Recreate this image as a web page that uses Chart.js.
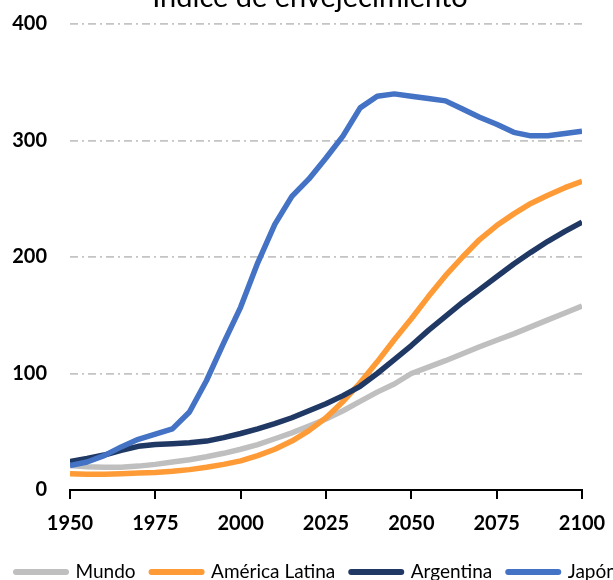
<!DOCTYPE html>
<html>
<head>
<meta charset="utf-8">
<title>Índice de envejecimiento</title>
<script src="https://cdn.jsdelivr.net/npm/chart.js@4/dist/chart.umd.min.js"></script>
<style>
  html, body { margin: 0; padding: 0; background: #fff; overflow: hidden; width: 613px; height: 580px; }
  #wrap { position: absolute; left: 0; top: 0; width: 640px; height: 600px; }
</style>
</head>
<body>
<div id="wrap"><canvas id="chart" width="640" height="600"></canvas></div>
<script>
// Aging index (population 65+ per 100 under 15), five-year steps
const years = [1950, 1955, 1960, 1965, 1970, 1975, 1980, 1985, 1990, 1995,
               2000, 2005, 2010, 2015, 2020, 2025, 2030, 2035, 2040, 2045,
               2050, 2055, 2060, 2065, 2070, 2075, 2080, 2085, 2090, 2095, 2100];

const xTicks = [1950, 1975, 2000, 2025, 2050, 2075, 2100];
const yTicks = [0, 100, 200, 300, 400];

const mundo = [21, 20, 19.5, 19.5, 20.5, 22, 24, 26, 28.5, 31.5,
               35, 39, 44, 49, 55, 61, 68, 76, 84, 91,
               100, 105.5, 111, 117, 123, 128.5, 134, 140, 146, 152, 158];

const americaLatina = [14, 13.5, 13.5, 14, 14.5, 15, 16, 17.5, 19.5, 22,
                       25, 29.5, 35, 42, 51, 62, 76, 92, 110, 129,
                       147, 166, 184, 200, 215, 227, 237, 246, 253, 259.5, 265];

const argentina = [24.5, 27, 30, 34, 37.5, 39, 39.7, 40.5, 42, 45,
                   48.5, 52.5, 57, 62, 68, 74, 81, 89, 100, 112,
                   124, 137, 149, 161, 172, 183, 194, 204, 213.5, 222, 230];

const japon = [21, 24, 29.5, 37, 43.5, 48, 52.5, 67, 94, 126,
               157, 195, 228, 252, 267, 285, 304, 328, 338, 340,
               338, 336, 334, 327, 320, 314, 307, 304, 304, 306, 308];

const seriesNames = ['Mundo', 'América Latina', 'Argentina', 'Japón'];
const seriesValues = [mundo, americaLatina, argentina, japon];
const seriesColors = ['#bfbfbf', '#ff9b36', '#203864', '#4472c4'];

const datasets = seriesNames.map((name, k) => ({
  label: name,
  data: years.map((yr, i) => ({ x: yr, y: seriesValues[k][i] })),
  borderColor: seriesColors[k],
  backgroundColor: seriesColors[k],
  borderWidth: 5.5,
  borderJoinStyle: 'round',
  pointRadius: 0,
  pointHoverRadius: 0,
  tension: 0,
  order: seriesNames.length - k   // later series painted on top
}));

// Chart heading, drawn slightly above the canvas top edge
const headingPlugin = {
  id: 'heading',
  afterDraw(chart) {
    const ctx = chart.ctx;
    ctx.save();
    ctx.font = '29px Lato';
    ctx.fillStyle = '#000';
    ctx.textAlign = 'center';
    ctx.textBaseline = 'alphabetic';
    ctx.fillText('Índice de envejecimiento', 310, 7);
    ctx.restore();
  }
};

const tickFont = { family: 'Lato', size: 20, weight: 'bold' };

new Chart(document.getElementById('chart'), {
  type: 'line',
  data: { datasets },
  plugins: [headingPlugin],
  options: {
    responsive: false,
    animation: false,
    layout: { padding: { top: 24, right: 0, bottom: 8.5, left: 0 } },
    plugins: {
      title: { display: false },
      tooltip: { enabled: false },
      legend: {
        position: 'bottom',
        align: 'start',
        labels: {
          usePointStyle: true,
          pointStyle: 'line',
          pointStyleWidth: 50,
          padding: 16,
          color: '#000',
          font: { family: 'Lato', size: 19 },
          sort: (a, b) => a.datasetIndex - b.datasetIndex,
          generateLabels(chart) {
            const items = Chart.defaults.plugins.legend.labels.generateLabels(chart);
            items.forEach(it => { it.lineWidth = 6; it.lineCap = 'round'; it.pointStyle = 'line'; });
            return items;
          }
        }
      }
    },
    scales: {
      x: {
        type: 'linear',
        min: 1950,
        max: 2100,
        afterBuildTicks: s => { s.ticks = xTicks.map(v => ({ value: v })); },
        afterFit: s => { s.height = 56.5; },
        grid: { display: true, drawOnChartArea: false, drawTicks: true, tickLength: 9, color: '#000', lineWidth: 2 },
        border: { display: true, color: '#000', width: 2 },
        ticks: { padding: 13, color: '#000', font: tickFont, autoSkip: false, maxRotation: 0, callback: v => String(v) }
      },
      y: {
        min: 0,
        max: 400,
        afterBuildTicks: s => { s.ticks = yTicks.map(v => ({ value: v })); },
        afterFit: s => { s.width = 70; s.paddingTop = 0; s.paddingBottom = 0; },
        grid: {
          drawTicks: false,
          lineWidth: 1.8,
          color: c => (c.tick && c.tick.value === 0) ? 'rgba(0,0,0,0)' : '#c4c4c4'
        },
        border: { display: false, dash: [8, 4, 2, 4] },
        ticks: { padding: 23, color: '#000', font: tickFont, callback: v => String(v) }
      },
      // empty right-hand margin so the plot stops short of the canvas edge
      yRight: {
        position: 'right',
        display: true,
        grid: { display: false, drawTicks: false },
        border: { display: false },
        ticks: { display: false },
        afterFit: s => { s.width = 58; s.paddingTop = 0; s.paddingBottom = 0; }
      }
    }
  }
});
</script>
</body>
</html>
